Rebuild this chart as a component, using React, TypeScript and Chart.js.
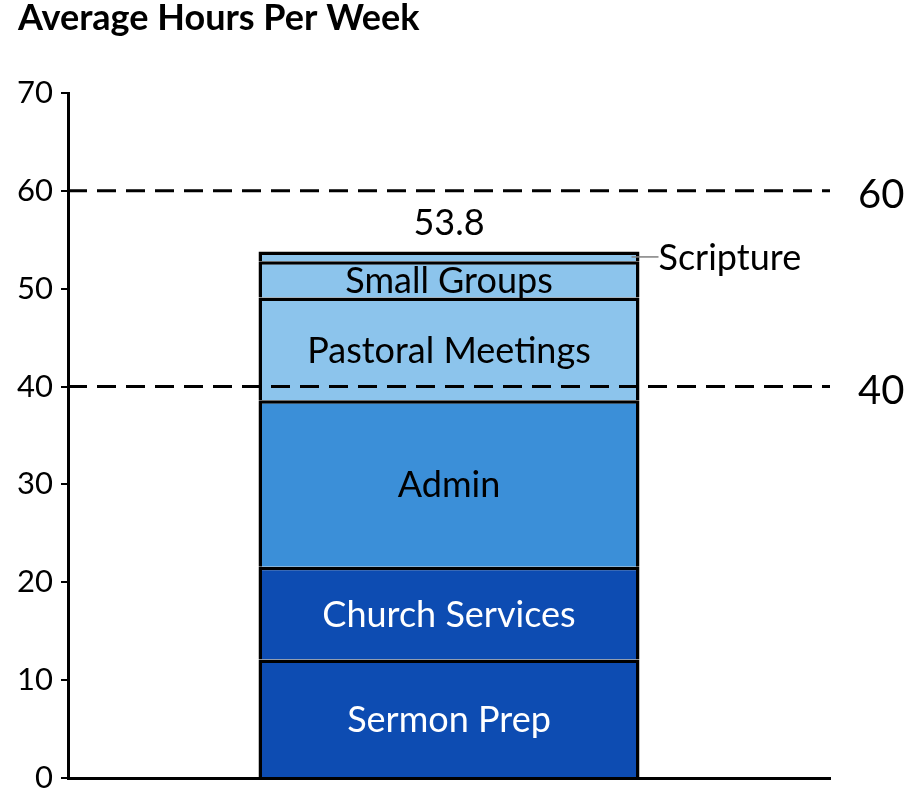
import React, { useEffect, useRef } from "react";
import { Chart, registerables } from "chart.js";

Chart.register(...registerables);

const categories = [""];
const segmentNames = ["Sermon Prep", "Church Services", "Admin", "Pastoral Meetings", "Small Groups", "Scripture"];
const segmentValues = [12.1, 9.5, 17.0, 10.5, 3.7, 1.0];
const segmentColors = ["#0D4CB2", "#0D4CB2", "#3B8FD8", "#8CC4EC", "#8CC4EC", "#8CC4EC"];
const labelColors = ["#FFFFFF", "#FFFFFF", "#000000", "#000000", "#000000", "#000000"];
const calloutSegments = ["Scripture"];
const referenceLines = [60, 40];
const yMin = 0;
const yMax = 70;
const yStep = 10;
const totalLabel = "53.8";
const chartTitle = "Average Hours Per Week";

const FONT = "Lato, 'Open Sans', sans-serif";

const annotationPlugin = {
  id: "annotations",
  afterDatasetsDraw(chart: any) {
    const { ctx, chartArea, scales } = chart;
    const y = scales.y;
    ctx.save();

    // segment labels
    const segFont = 36;
    ctx.font = `${segFont}px ${FONT}`;
    let barTop = Infinity;
    let barX = 0;
    let barRight = 0;
    segmentNames.forEach((name, i) => {
      const el: any = chart.getDatasetMeta(i).data[0];
      if (!el) return;
      const top = Math.min(el.y, el.base);
      const base = Math.max(el.y, el.base);
      barTop = Math.min(barTop, top);
      barX = el.x;
      barRight = el.x + el.width / 2;
      const mid = (top + base) / 2;
      if (calloutSegments.includes(name)) {
        ctx.strokeStyle = "#7F7F7F";
        ctx.lineWidth = 1.5;
        ctx.beginPath();
        ctx.moveTo(barRight - 8, mid + 0.5);
        ctx.lineTo(barRight + 19, mid + 0.5);
        ctx.stroke();
        ctx.fillStyle = "#000000";
        ctx.textAlign = "left";
        ctx.textBaseline = "alphabetic";
        ctx.fillText(name, barRight + 19, mid + 13.5);
      } else {
        ctx.fillStyle = labelColors[i];
        ctx.textAlign = "center";
        ctx.textBaseline = "alphabetic";
        ctx.fillText(name, el.x, mid + 14);
      }
    });

    // total label
    ctx.fillStyle = "#000000";
    ctx.font = `36px ${FONT}`;
    ctx.textAlign = "center";
    ctx.textBaseline = "alphabetic";
    ctx.fillText(totalLabel, barX, barTop - 17);

    // dashed reference lines
    referenceLines.forEach((v) => {
      const py = y.getPixelForValue(v);
      ctx.strokeStyle = "#000000";
      ctx.lineWidth = 3;
      ctx.setLineDash([19, 10]);
      ctx.beginPath();
      ctx.moveTo(chartArea.left, py);
      ctx.lineTo(chartArea.right, py);
      ctx.stroke();
      ctx.setLineDash([]);
      ctx.fillStyle = "#000000";
      ctx.font = `40px ${FONT}`;
      ctx.textAlign = "left";
      ctx.fillText(String(v), chartArea.right + 28, py + 17);
    });

    // title
    ctx.fillStyle = "#000000";
    ctx.font = `bold 36px ${FONT}`;
    ctx.textAlign = "left";
    ctx.textBaseline = "alphabetic";
    ctx.fillText(chartTitle, 18, 30);

    ctx.restore();
  },
};

export default function App() {
  const canvasRef = useRef<HTMLCanvasElement | null>(null);

  useEffect(() => {
    const canvas = canvasRef.current;
    if (!canvas) return;
    const chart = new Chart(canvas, {
      type: "bar",
      data: {
        labels: categories,
        datasets: segmentNames.map((name, i) => ({
          label: name,
          data: [segmentValues[i]],
          backgroundColor: segmentColors[i],
          borderColor: "#000000",
          borderWidth: 3.5,
          borderSkipped: "start",
          barPercentage: 0.5,
          categoryPercentage: 1.0,
        })),
      },
      options: {
        responsive: false,
        animation: false,
        events: [],
        layout: { padding: { left: 0, right: 80, top: 93, bottom: 16 }, autoPadding: false },
        plugins: {
          legend: { display: false },
          tooltip: { enabled: false },
          title: { display: false },
        },
        scales: {
          x: {
            stacked: true,
            ticks: { display: false },
            grid: { display: false, drawTicks: false },
            border: { display: true, color: "#000000", width: 3 },
            afterFit: (s: any) => {
              s.height = 0;
              s.paddingTop = 0;
              s.paddingBottom = 0;
              s.paddingLeft = 0;
              s.paddingRight = 0;
            },
          },
          y: {
            stacked: true,
            min: yMin,
            max: yMax,
            ticks: {
              stepSize: yStep,
              color: "#000000",
              font: { family: FONT, size: 31 },
              padding: 8,
            },
            grid: {
              display: true,
              drawOnChartArea: false,
              drawTicks: true,
              tickLength: 7,
              color: "#000000",
              lineWidth: 2,
            },
            border: { display: true, color: "#000000", width: 3 },
            afterFit: (s: any) => {
              s.width = 68;
              s.paddingTop = 0;
              s.paddingBottom = 0;
              s.paddingLeft = 0;
              s.paddingRight = 0;
            },
          },
        },
      },
      plugins: [annotationPlugin],
    });
    if ((document as any).fonts && (document as any).fonts.load) {
      Promise.all([
        (document as any).fonts.load(`30px Lato`),
        (document as any).fonts.load(`bold 30px Lato`),
      ]).then(() => chart.update()).catch(() => {});
    }
    return () => chart.destroy();
  }, []);

  return (
    <div style={{ position: "absolute", left: 0, top: 0, width: 910, height: 794, background: "#FFFFFF" }}>
      <canvas ref={canvasRef} width={910} height={794} style={{ display: "block", width: 910, height: 794 }} />
    </div>
  );
}
